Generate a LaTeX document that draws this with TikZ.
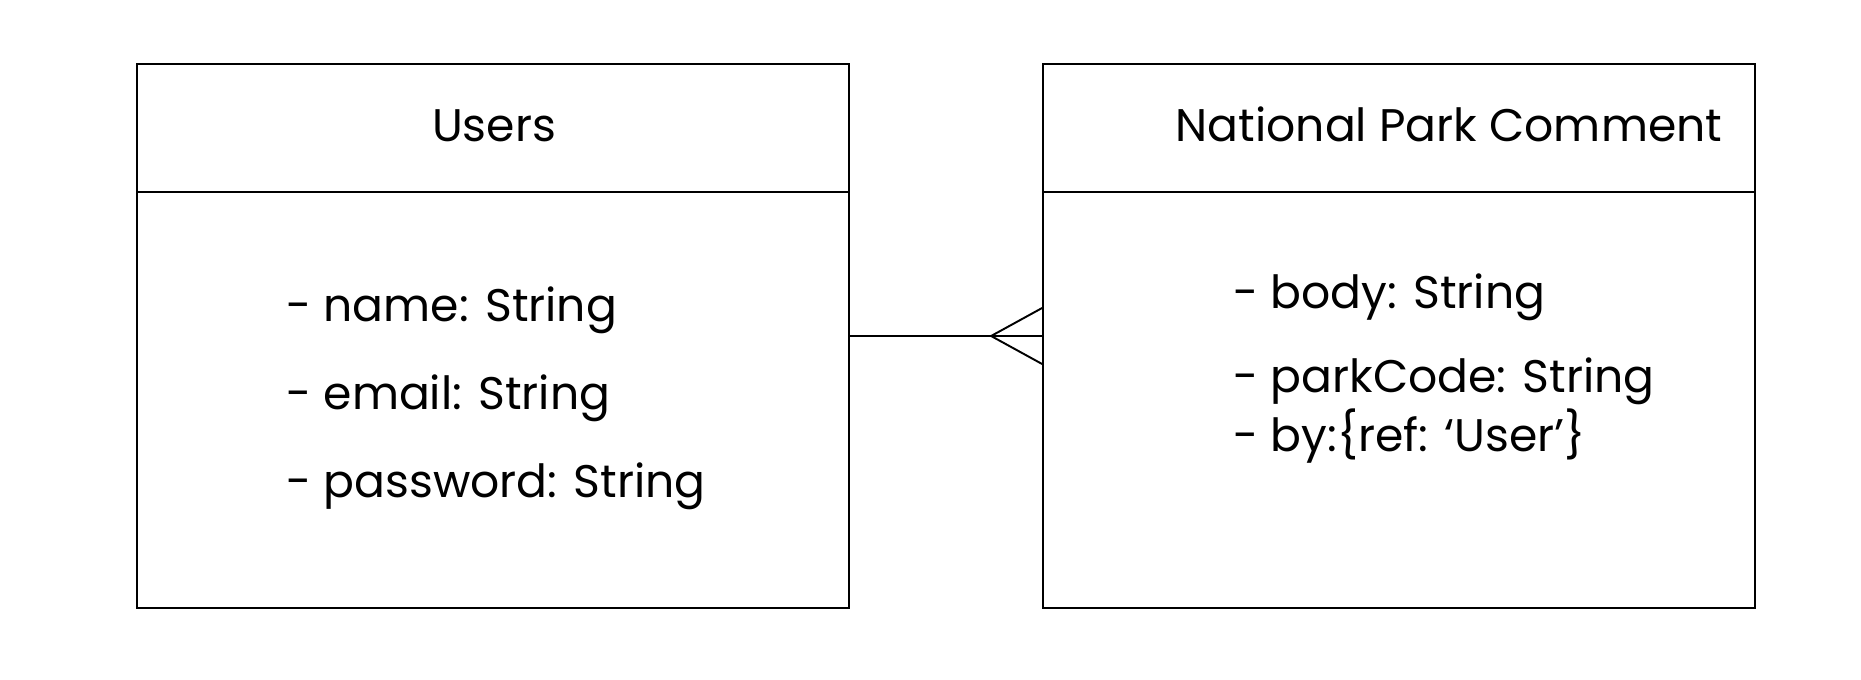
\documentclass[tikz,border=0pt]{standalone}
\usepackage{fontspec}
\setmainfont{Poppins}
\usetikzlibrary{calc}
\tikzset{
  entity/.style={draw, line width=1.1pt, minimum width=14.24cm, minimum height=10.88cm, inner sep=0pt},
  conn/.style={line width=1.1pt},
  title/.style={font=\fontsize{26}{30}\selectfont, anchor=base, inner sep=0pt},
  attr/.style={font=\fontsize{26}{30}\selectfont, anchor=base west, inner sep=0pt},
}
\begin{document}
\begin{tikzpicture}[x=0.02cm,y=-0.02cm]
\useasboundingbox (0,0) rectangle (1861,679);
\node[entity] (users) at (493,336) {};
\node[entity] (comment) at (1399,336) {};
\coordinate (uh) at (0,192);
\draw[conn] (users.west |- uh) -- (users.east |- uh);
\draw[conn] (comment.west |- uh) -- (comment.east |- uh);
\node[title] (usersT) at (494,141) {Users};
\node[title] (commentT) at (1449,141) {National Park Comment};
\node[attr] (u1) at (286,321) {- name: String};
\node[attr] (u2) at (286,409) {- email: String};
\node[attr] (u3) at (286,497) {- password: String};
\node[attr] (c1) at (1233,308) {- body: String};
\node[attr] (c2) at (1233,392) {- parkCode: String};
\node[attr] (c3) at (1233,451) {- by:\{ref: ‘User’\}};
\coordinate (apex) at ($(comment.west)+(-51,0)$);
\draw[conn] (users.east) -- (comment.west);
\draw[conn] ($(comment.west)+(0,-28)$) -- (apex) -- ($(comment.west)+(0,28)$);
\end{tikzpicture}
\end{document}
